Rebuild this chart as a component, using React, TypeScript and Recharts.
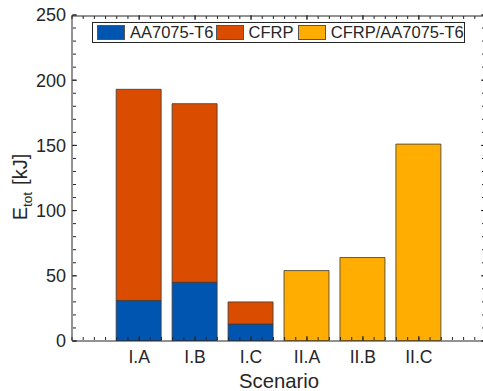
import { BarChart, Bar, XAxis, YAxis, Label } from 'recharts';

// scenario names and their slot on the numeric x axis
const scenarios = ['I.A', 'I.B', 'I.C', 'II.A', 'II.B', 'II.C'];
const scenarioPos = [1, 2, 3, 4, 5, 6];

// total energy per material, kJ
const aluminium = [31, 45, 13, null, null, null];
const cfrp = [162, 137, 17, null, null, null];
const hybrid = [null, null, null, 54, 64, 151];

const yTicks = [0, 50, 100, 150, 200, 250];

const series = [
  { key: 'al', name: 'AA7075-T6', color: '#0055B0' },
  { key: 'cfrp', name: 'CFRP', color: '#DA4D00' },
  { key: 'hyb', name: 'CFRP/AA7075-T6', color: '#FFAD00' },
];

const data = scenarios.map((name, i) => ({
  name,
  pos: scenarioPos[i],
  al: aluminium[i],
  cfrp: cfrp[i],
  hyb: hybrid[i],
}));

const xDomain: [number, number] = [-0.2, 7.2];
const yDomain: [number, number] = [0, 250];

// minor tick positions for the box axes
const minorX = Array.from({ length: 38 }, (_, i) => Math.round((-0.2 + i * 0.2) * 10) / 10);
const minorY = Array.from({ length: 26 }, (_, i) => i * 10);

const axisColor = '#262626';
const font = "'Liberation Sans', Arial, Helvetica, sans-serif";

// tick lines only, no text
const noLabel = () => <g />;

const renderXLabel = (props: any) => {
  const vb = props.viewBox;
  return (
    <text x={vb.x + vb.width / 2} y={vb.y + 47} textAnchor="middle" fontSize={20.3} fill={axisColor} fontFamily={font}>
      Scenario
    </text>
  );
};

const renderYLabel = (props: any) => {
  const vb = props.viewBox;
  const cx = 27;
  const cy = vb.y + vb.height / 2 + 9;
  return (
    <text x={cx} y={cy} transform={`rotate(-90, ${cx}, ${cy})`} textAnchor="middle" fontSize={20} fill={axisColor} fontFamily={font}>
      E
      <tspan fontSize={13.5} dy={5}>tot</tspan>
      <tspan dy={-5} dx={7}>[kJ]</tspan>
    </text>
  );
};

const boxAxis = { stroke: axisColor, strokeWidth: 1 };

const LegendBox = () => {
  const widths = [118.5, 82.3, 168];
  return (
    <div
      style={{
        position: 'absolute',
        left: 92,
        top: 22,
        width: 373,
        height: 21,
        border: `1px solid ${axisColor}`,
        background: '#fff',
        display: 'flex',
        alignItems: 'center',
        paddingLeft: 4,
        boxSizing: 'border-box',
        fontFamily: font,
        fontSize: 16.5,
        color: axisColor,
      }}
    >
      {series.map((s, i) => (
        <div key={s.key} style={{ display: 'flex', alignItems: 'center', width: widths[i], flex: 'none' }}>
          <div
            style={{
              width: 28,
              height: 15,
              boxSizing: 'border-box',
              background: s.color,
              border: '1px solid #555',
              marginRight: 5,
              flex: 'none',
            }}
          />
          <span style={{ lineHeight: 1, whiteSpace: 'nowrap' }}>{s.name}</span>
        </div>
      ))}
    </div>
  );
};

export default function App() {
  return (
    <div
      style={{
        position: 'absolute',
        left: 0,
        top: 0,
        width: 483,
        height: 391,
        overflow: 'hidden',
        background: '#fff',
      }}
    >
      <BarChart width={490} height={391} data={data} margin={{ top: 15, right: 4, left: 0, bottom: 0 }} barSize={45}>
        <XAxis
          xAxisId="main"
          dataKey="pos"
          type="number"
          domain={xDomain}
          allowDataOverflow
          ticks={scenarioPos}
          interval={0}
          tickFormatter={(v: number) => scenarios[v - 1]}
          height={50}
          tickSize={0}
          tickMargin={10}
          tickLine={false}
          axisLine={boxAxis}
          tick={{ fontSize: 17.6, fill: axisColor, fontFamily: font }}
        >
          <Label content={renderXLabel} />
        </XAxis>
        <XAxis xAxisId="bMinor" dataKey="pos" type="number" domain={xDomain} allowDataOverflow mirror ticks={minorX} interval={0} tickSize={3} tick={noLabel} axisLine={false} tickLine={boxAxis} height={1} />
        <XAxis xAxisId="bMajor" dataKey="pos" type="number" domain={xDomain} allowDataOverflow mirror ticks={scenarioPos} interval={0} tickSize={5} tick={noLabel} axisLine={false} tickLine={boxAxis} height={1} />
        <XAxis xAxisId="tMinor" dataKey="pos" type="number" orientation="top" domain={xDomain} allowDataOverflow mirror ticks={minorX} interval={0} tickSize={3} tick={noLabel} axisLine={boxAxis} tickLine={boxAxis} height={1} />
        <XAxis xAxisId="tMajor" dataKey="pos" type="number" orientation="top" domain={xDomain} allowDataOverflow mirror ticks={scenarioPos} interval={0} tickSize={5} tick={noLabel} axisLine={false} tickLine={boxAxis} height={1} />

        <YAxis
          yAxisId="main"
          type="number"
          domain={yDomain}
          allowDataOverflow
          ticks={yTicks}
          interval={0}
          width={72}
          tickSize={0}
          tickMargin={6}
          tickLine={false}
          axisLine={boxAxis}
          tick={{ fontSize: 18, fill: axisColor, fontFamily: font }}
        >
          <Label content={renderYLabel} />
        </YAxis>
        <YAxis yAxisId="lMinor" type="number" domain={yDomain} allowDataOverflow mirror ticks={minorY} interval={0} tickSize={3} tick={noLabel} axisLine={false} tickLine={boxAxis} width={1} />
        <YAxis yAxisId="lMajor" type="number" domain={yDomain} allowDataOverflow mirror ticks={yTicks} interval={0} tickSize={5} tick={noLabel} axisLine={false} tickLine={boxAxis} width={1} />
        <YAxis yAxisId="rMinor" type="number" orientation="right" domain={yDomain} allowDataOverflow mirror ticks={minorY} interval={0} tickSize={3} tick={noLabel} axisLine={boxAxis} tickLine={boxAxis} width={1} />
        <YAxis yAxisId="rMajor" type="number" orientation="right" domain={yDomain} allowDataOverflow mirror ticks={yTicks} interval={0} tickSize={5} tick={noLabel} axisLine={false} tickLine={boxAxis} width={1} />

        {series.map((s) => (
          <Bar
            key={s.key}
            xAxisId="main"
            yAxisId="main"
            dataKey={s.key}
            name={s.name}
            stackId="total"
            fill={s.color}
            stroke="#3a3a3a"
            strokeWidth={0.8}
            isAnimationActive={false}
          />
        ))}
      </BarChart>
      <LegendBox />
    </div>
  );
}
